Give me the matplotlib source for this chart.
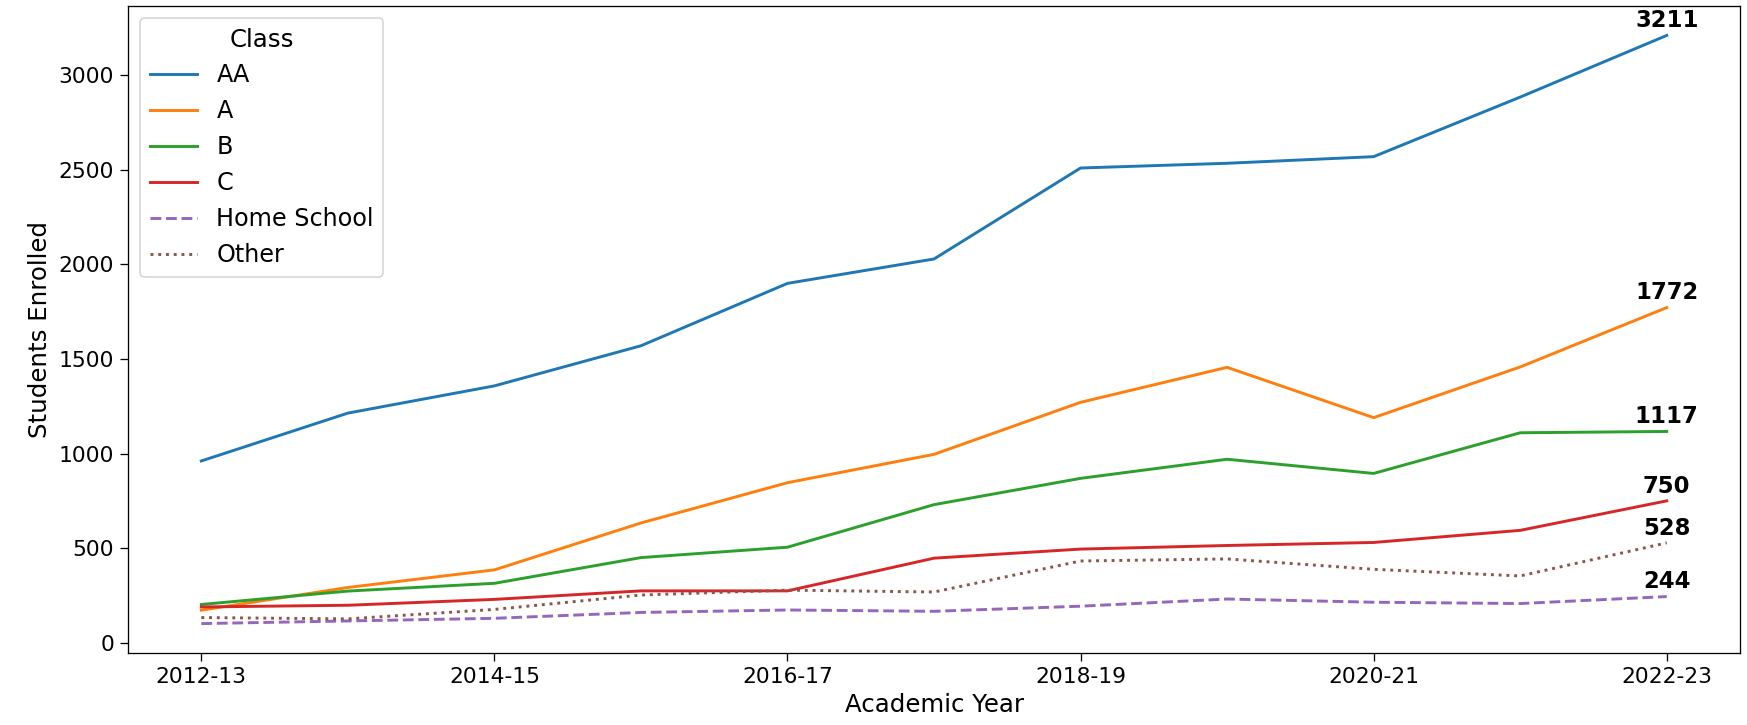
import matplotlib
matplotlib.use("Agg")
import matplotlib.pyplot as plt

years = ["2012-13", "2013-14", "2014-15", "2015-16", "2016-17", "2017-18",
         "2018-19", "2019-20", "2020-21", "2021-22", "2022-23"]
aa = [961, 1214, 1358, 1570, 1900, 2029, 2510, 2535, 2570, 2885, 3211]
a = [172, 292, 385, 633, 846, 996, 1271, 1456, 1190, 1458, 1772]
b = [202, 273, 314, 450, 505, 730, 869, 970, 895, 1110, 1117]
c = [189, 198, 229, 274, 274, 447, 495, 514, 530, 594, 750]
home = [101, 115, 129, 160, 173, 166, 193, 231, 214, 207, 244]
other = [133, 126, 176, 252, 278, 268, 432, 443, 388, 353, 528]

series = [("AA", aa, "-", "#1f77b4"),
          ("A", a, "-", "#ff7f0e"),
          ("B", b, "-", "#2ca02c"),
          ("C", c, "-", "#d62728"),
          ("Home School", home, "--", "#9467bd"),
          ("Other", other, ":", "#8c564b")]

dpi = 117
fig, ax = plt.subplots(figsize=(1747 / dpi, 725 / dpi), dpi=dpi)
x = list(range(len(years)))
for name, vals, ls, col in series:
    ax.plot(x, vals, linestyle=ls, color=col, label=name, linewidth=1.8)
    ax.annotate(str(vals[-1]), (x[-1], vals[-1]), xytext=(0, 2),
                textcoords="offset points", ha="center", va="bottom",
                fontweight="bold", fontsize=14)

ax.set_xticks(x[::2])
ax.set_xticklabels(years[::2])
ax.tick_params(labelsize=13.4, length=5)
ax.set_xlabel("Academic Year", fontsize=15)
ax.set_ylabel("Students Enrolled", fontsize=15)
leg = ax.legend(title="Class", loc="upper left", fontsize=14.7,
                title_fontsize=15)
fig.subplots_adjust(left=0.0733, right=0.996, top=0.9917, bottom=0.0993)
fig.savefig("out.png", dpi=dpi)
